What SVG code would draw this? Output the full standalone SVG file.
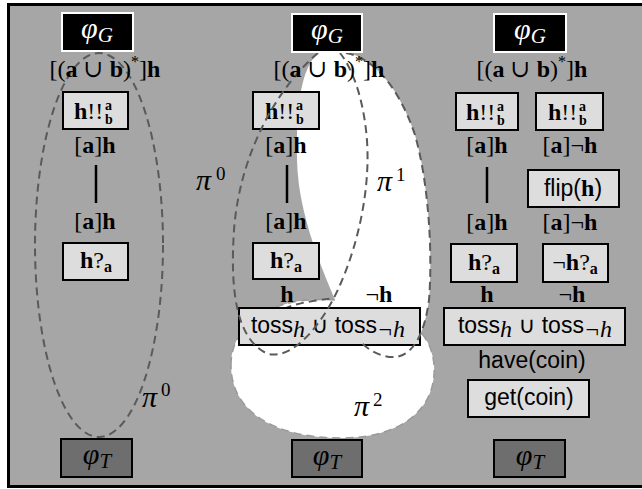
<svg xmlns="http://www.w3.org/2000/svg" width="642" height="489" viewBox="0 0 642 489">
  <style>
    .frame { fill: #a6a6a6; stroke: #000; stroke-width: 3; }
    .box { fill: #dddddd; stroke: #000; stroke-width: 2; }
    .goal { fill: #000; stroke: #fff; stroke-width: 2; }
    .term { fill: #6e6e6e; stroke: #000; stroke-width: 2; }
    .m { font-family: "Liberation Serif", "DejaVu Serif", serif; font-size: 24px; fill: #000; }
    .b { font-weight: bold; }
    .i { font-style: italic; }
    .s { font-family: "Liberation Sans", "DejaVu Sans", sans-serif; font-size: 23px; fill: #000; }
    .phi { font-family: "Liberation Serif", "DejaVu Serif", serif; font-style: italic; font-size: 30px; }
    .pi { font-family: "Liberation Serif", "DejaVu Serif", serif; font-style: italic; font-size: 30px; fill: #000; }
    .sup { font-family: "Liberation Serif", "DejaVu Serif", serif; font-size: 19px; fill: #000; }
    .scr { font-size: 14px; font-weight: bold; }
    .dash { fill: none; stroke: #5a5a5a; stroke-width: 2; stroke-dasharray: 8 5; }
    .faint { fill: none; stroke: #9a9a9a; stroke-width: 1.5; stroke-dasharray: 8 5; }
    .region { fill: #fff; }
    .conn { stroke: #000; stroke-width: 2.5; }
  </style>

  <rect x="0" y="0" width="642" height="489" fill="#fff"/>
  <rect class="frame" x="8.5" y="4.5" width="645" height="482"/>

  <!-- white regions of the plan decomposition -->
  <g id="regions">
    <path id="pi2-fill" class="region" d="M231,365 C231,325 270,302 310,300 C360,297 430,310 434,365 C437,410 400,437 345,438 C280,439 231,415 231,365 Z"/>
    <path class="faint" d="M231,365 C231,325 270,302 310,300 C360,297 430,310 434,365 C437,410 400,437 345,438 C280,439 231,415 231,365 Z"/>
    <path class="dash" d="M284,309 C296,303 315,300 338,298"/>
    <path id="pi1-fill" class="region" d="M318,53 C300,70 296,110 297,160 C298,210 318,260 335,300 L360,345 C370,352 385,358 395,357 C415,355 425,330 429,300 C433,250 428,180 415,135 C400,90 375,58 345,52 Z"/>
  </g>

  <!-- connectors -->
  <g id="connectors">
    <line class="conn" x1="96" y1="165" x2="96" y2="203"/>
    <line class="conn" x1="287" y1="165" x2="287" y2="203"/>
    <line class="conn" x1="487" y1="167" x2="487" y2="203"/>
  </g>

  <!-- column 1 -->
  <g id="c1-hbang">
    <rect class="box" x="63" y="92" width="65" height="37"/>
    <text class="m" x="74" y="119"><tspan class="b">h</tspan>!!<tspan class="scr" x="105" y="110">a</tspan><tspan class="scr" x="105" y="124">b</tspan></text>
  </g>
  <g id="c1-htest">
    <rect class="box" x="63" y="243" width="65" height="37"/>
    <text class="m" x="96" y="268" text-anchor="middle"><tspan class="b">h</tspan>?<tspan class="b" font-size="16" dy="4">a</tspan></text>
  </g>

  <!-- column 2 -->
  <g id="c2-hbang">
    <rect class="box" x="253" y="92" width="66" height="37"/>
    <text class="m" x="265" y="119"><tspan class="b">h</tspan>!!<tspan class="scr" x="296" y="110">a</tspan><tspan class="scr" x="296" y="124">b</tspan></text>
  </g>
  <g id="c2-htest">
    <rect class="box" x="253" y="243" width="66" height="36"/>
    <text class="m" x="286" y="268" text-anchor="middle"><tspan class="b">h</tspan>?<tspan class="b" font-size="16" dy="4">a</tspan></text>
  </g>
  <g id="c2-toss">
    <rect class="box" x="239" y="308" width="181" height="37"/>
    <text class="s" x="328" y="333" text-anchor="middle">toss<tspan class="m i" font-size="16" dy="4">h</tspan><tspan dy="-4"> ∪ toss</tspan><tspan class="m i" font-size="16" dy="4">¬h</tspan></text>
  </g>

  <!-- column 3 -->
  <g id="c3-hbang-l">
    <rect class="box" x="456" y="93" width="62" height="37"/>
    <text class="m" x="466" y="120"><tspan class="b">h</tspan>!!<tspan class="scr" x="497" y="111">a</tspan><tspan class="scr" x="497" y="125">b</tspan></text>
  </g>
  <g id="c3-hbang-r">
    <rect class="box" x="536" y="93" width="67" height="37"/>
    <text class="m" x="548" y="120"><tspan class="b">h</tspan>!!<tspan class="scr" x="579" y="111">a</tspan><tspan class="scr" x="579" y="125">b</tspan></text>
  </g>
  <g id="c3-flip">
    <rect class="box" x="528" y="170" width="91" height="37"/>
    <text class="s" x="573" y="196" text-anchor="middle">flip(<tspan class="m b">h</tspan>)</text>
  </g>
  <g id="c3-htest">
    <rect class="box" x="451" y="244" width="66" height="38"/>
    <text class="m" x="484" y="270" text-anchor="middle"><tspan class="b">h</tspan>?<tspan class="b" font-size="16" dy="4">a</tspan></text>
  </g>
  <g id="c3-nhtest">
    <rect class="box" x="543" y="244" width="65" height="38"/>
    <text class="m" x="575" y="270" text-anchor="middle">¬<tspan class="b">h</tspan>?<tspan class="b" font-size="16" dy="4">a</tspan></text>
  </g>
  <g id="c3-toss">
    <rect class="box" x="444" y="308" width="181" height="37"/>
    <text class="s" x="535" y="333" text-anchor="middle">toss<tspan class="m i" font-size="16" dy="4">h</tspan><tspan dy="-4"> ∪ toss</tspan><tspan class="m i" font-size="16" dy="4">¬h</tspan></text>
  </g>
  <g id="c3-get">
    <rect class="box" x="468" y="380" width="121" height="37"/>
    <text class="s" x="529" y="405" text-anchor="middle">get(coin)</text>
  </g>

  <!-- dashed region outlines -->
  <g id="outlines">
    <ellipse class="dash" cx="99" cy="245" rx="64" ry="192"/>
    <path class="dash" d="M318,53 C280,85 240,150 234,230 C230,290 236,340 268,354 C295,360 325,320 340,285 C360,240 372,180 366,130 C362,95 352,68 340,53"/>
    <path class="dash" d="M346,53 C375,58 400,90 415,135 C428,180 433,250 429,300 C425,330 415,355 395,357 C385,358 370,352 362,343"/>
  </g>

  <!-- goal and terminal nodes -->
  <g id="c1-goal">
    <rect class="goal" x="62" y="13" width="71" height="38"/>
    <text class="phi" x="97" y="38" text-anchor="middle" fill="#fff">φ<tspan font-size="21" dy="4">G</tspan></text>
  </g>
  <g id="c1-term">
    <rect class="term" x="61" y="439" width="71" height="38"/>
    <text class="phi" x="97" y="464" text-anchor="middle" fill="#000">φ<tspan font-size="21" dy="4">T</tspan></text>
  </g>
  <g id="c2-goal">
    <rect class="goal" x="292" y="14" width="70" height="38"/>
    <text class="phi" x="327" y="39" text-anchor="middle" fill="#fff">φ<tspan font-size="21" dy="4">G</tspan></text>
  </g>
  <g id="c2-term">
    <rect class="term" x="292" y="440" width="70" height="37"/>
    <text class="phi" x="327" y="465" text-anchor="middle" fill="#000">φ<tspan font-size="21" dy="4">T</tspan></text>
  </g>
  <g id="c3-goal">
    <rect class="goal" x="494" y="14" width="72" height="38"/>
    <text class="phi" x="530" y="39" text-anchor="middle" fill="#fff">φ<tspan font-size="21" dy="4">G</tspan></text>
  </g>
  <g id="c3-term">
    <rect class="term" x="494" y="440" width="71" height="37"/>
    <text class="phi" x="530" y="465" text-anchor="middle" fill="#000">φ<tspan font-size="21" dy="4">T</tspan></text>
  </g>

  <!-- formulas along the plans -->
  <g id="labels">
    <text class="m" x="105" y="77" text-anchor="middle">[(<tspan class="b">a</tspan> ∪ <tspan class="b">b</tspan>)<tspan font-size="16" dy="-10">*</tspan><tspan dy="10">]</tspan><tspan class="b">h</tspan></text>
    <text class="m" x="95" y="153" text-anchor="middle">[<tspan class="b">a</tspan>]<tspan class="b">h</tspan></text>
    <text class="m" x="95" y="229" text-anchor="middle">[<tspan class="b">a</tspan>]<tspan class="b">h</tspan></text>

    <text class="m" x="329" y="77" text-anchor="middle">[(<tspan class="b">a</tspan> ∪ <tspan class="b">b</tspan>)<tspan font-size="16" dy="-10">*</tspan><tspan dy="10">]</tspan><tspan class="b">h</tspan></text>
    <text class="m" x="286" y="153" text-anchor="middle">[<tspan class="b">a</tspan>]<tspan class="b">h</tspan></text>
    <text class="m" x="286" y="229" text-anchor="middle">[<tspan class="b">a</tspan>]<tspan class="b">h</tspan></text>
    <text class="m b" x="287" y="302" text-anchor="middle">h</text>
    <text class="m" x="379" y="302" text-anchor="middle">¬<tspan class="b">h</tspan></text>

    <text class="m" x="532" y="77" text-anchor="middle">[(<tspan class="b">a</tspan> ∪ <tspan class="b">b</tspan>)<tspan font-size="16" dy="-10">*</tspan><tspan dy="10">]</tspan><tspan class="b">h</tspan></text>
    <text class="m" x="487" y="153" text-anchor="middle">[<tspan class="b">a</tspan>]<tspan class="b">h</tspan></text>
    <text class="m" x="570" y="153" text-anchor="middle">[<tspan class="b">a</tspan>]¬<tspan class="b">h</tspan></text>
    <text class="m" x="487" y="230" text-anchor="middle">[<tspan class="b">a</tspan>]<tspan class="b">h</tspan></text>
    <text class="m" x="570" y="230" text-anchor="middle">[<tspan class="b">a</tspan>]¬<tspan class="b">h</tspan></text>
    <text class="m b" x="487" y="302" text-anchor="middle">h</text>
    <text class="m" x="572" y="302" text-anchor="middle">¬<tspan class="b">h</tspan></text>
    <text class="s" x="532" y="368" text-anchor="middle">have(coin)</text>

    <!-- region names -->
    <text class="pi" x="142" y="407">π</text><text class="sup" x="161" y="396">0</text>
    <text class="pi" x="196" y="190">π</text><text class="sup" x="216" y="180">0</text>
    <text class="pi" x="377" y="191">π</text><text class="sup" x="396" y="181">1</text>
    <text class="pi" x="354" y="416">π</text><text class="sup" x="373" y="406">2</text>
  </g>
</svg>
